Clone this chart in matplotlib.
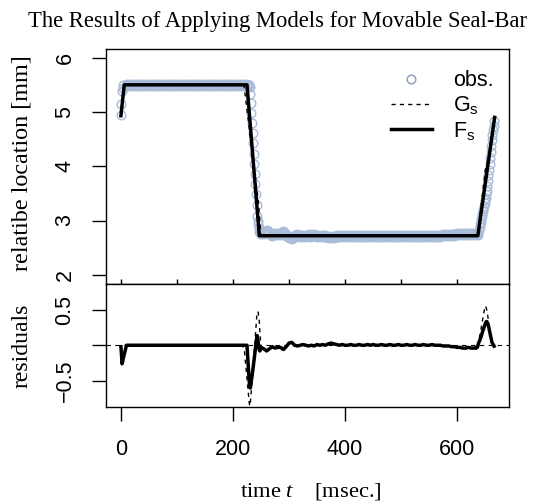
import numpy as np
import matplotlib
matplotlib.use("Agg")
import matplotlib.pyplot as plt
from matplotlib.lines import Line2D

plt.rcParams["font.family"] = ["Liberation Sans", "DejaVu Sans"]
plt.rcParams["mathtext.fontset"] = "custom"
plt.rcParams["mathtext.rm"] = "Liberation Serif"
plt.rcParams["mathtext.it"] = "Liberation Serif:italic"
plt.rcParams["mathtext.sf"] = "Liberation Sans"

# --- observaciones ---
t_start = np.arange(0, 5, 1)
obs_start = [4.95, 5.15, 5.38, 5.45, 5.50]

t_high = np.arange(10, 226, 5)
obs_high = [5.50, 5.50, 5.50, 5.50, 5.50, 5.50, 5.50, 5.50, 5.50, 5.50, 5.50,
            5.50, 5.50, 5.50, 5.50, 5.50, 5.50, 5.50, 5.50, 5.50, 5.50, 5.50,
            5.50, 5.50, 5.50, 5.50, 5.50, 5.50, 5.50, 5.50, 5.50, 5.50, 5.50,
            5.50, 5.50, 5.50, 5.50, 5.50, 5.50, 5.50, 5.50, 5.50, 5.50, 5.50]

t_down = np.arange(226, 251, 1)
obs_down = [5.50, 5.50, 5.50, 5.50, 5.46, 5.34, 5.16, 4.98, 4.80, 4.61,
            4.42, 4.23, 4.05, 3.86, 3.67, 3.48, 3.29, 3.09, 3.00, 2.93,
            2.86, 2.79, 2.80, 2.78, 2.75]

t_low = np.arange(255, 631, 5)
obs_low = [2.77, 2.80, 2.77, 2.74, 2.76, 2.75, 2.75, 2.78, 2.74, 2.69,
           2.68, 2.72, 2.73, 2.72, 2.71, 2.72, 2.73, 2.72, 2.73, 2.71,
           2.72, 2.71, 2.72, 2.70, 2.69, 2.70, 2.71, 2.72, 2.71, 2.72,
           2.72, 2.71, 2.72, 2.72, 2.71, 2.72, 2.72, 2.71, 2.72, 2.71,
           2.72, 2.72, 2.71, 2.72, 2.72, 2.71, 2.72, 2.72, 2.71, 2.72,
           2.72, 2.71, 2.72, 2.72, 2.71, 2.72, 2.72, 2.71, 2.72, 2.72,
           2.71, 2.72, 2.72, 2.72, 2.73, 2.73, 2.73, 2.74, 2.74, 2.75,
           2.75, 2.76, 2.76, 2.75, 2.76, 2.76]

t_up = np.arange(631, 667, 1)
obs_up = [2.76, 2.76, 2.76, 2.76, 2.75, 2.75, 2.73, 2.77, 2.82, 2.88,
          2.93, 2.98, 3.03, 3.08, 3.12, 3.17, 3.22, 3.27, 3.32, 3.37,
          3.42, 3.48, 3.55, 3.64, 3.73, 3.83, 3.94, 4.05, 4.16, 4.27,
          4.38, 4.49, 4.58, 4.67, 4.75, 4.84]

# --- modelos ajustados (vertices) ---
F_t = [0, 6, 225, 247, 637, 667]
F_y = [4.93, 5.50, 5.50, 2.72, 2.72, 4.90]
G_t = [0, 6, 219.5, 230, 245, 250, 637, 650, 658, 667]
G_y = [4.93, 5.50, 5.50, 4.61, 3.39, 2.72, 2.72, 3.92, 4.25, 4.90]

t_obs = np.concatenate([t_start, t_high, t_down, t_low, t_up])
obs = np.concatenate([obs_start, obs_high, obs_down, obs_low, obs_up])

# residuales = modelo - observado
res_F = np.interp(t_obs, F_t, F_y) - obs
res_G = np.interp(t_obs, G_t, G_y) - obs

W, H = 555, 504
fig = plt.figure(figsize=(W / 100, H / 100), dpi=100)
L, R = 106, 509
ax1 = fig.add_axes([L / W, 1 - 283.5 / H, (R - L) / W, (283.5 - 49) / H])
ax2 = fig.add_axes([L / W, 1 - 407 / H, (R - L) / W, (407 - 283.5) / H])

col_obs = "#a9bcd9"
fs_tick = 15.5

# Panel superior (tramos muestreados cada 5 ms con borde mas grueso)
for tt, yy in [(t_start, obs_start), (t_down, obs_down), (t_up, obs_up)]:
    ax1.plot(tt, yy, "o", ms=6.2, mfc="none", mec=col_obs, mew=1.0, zorder=1)
for tt, yy in [(t_high, obs_high), (t_low, obs_low)]:
    ax1.plot(tt, yy, "o", ms=6.6, mfc="none", mec=col_obs, mew=1.9, zorder=1)
ax1.plot(G_t, G_y, color="black", lw=1.0, ls=(0, (3, 3)), zorder=2)
ax1.plot(F_t, F_y, color="black", lw=2.5, zorder=3)
ax1.set_xlim(-26.6, 692.6)
ax1.set_ylim(1.84, 6.16)
ax1.set_yticks([2, 3, 4, 5, 6])
ax1.set_xticks(np.arange(0, 601, 100))
ax1.tick_params(axis="x", direction="in", length=3.6, width=1.0, labelbottom=False)
ax1.tick_params(axis="y", direction="out", length=10, width=1.0, pad=12,
                labelsize=fs_tick, labelrotation=90)
for lab in ax1.get_yticklabels():
    lab.set_va("center")

handles = [
    Line2D([], [], ls="none", marker="o", ms=6.2, mfc="none", mec="#8c9bb5", mew=1.0),
    Line2D([], [], color="black", lw=1.0, ls=(0, (3, 3))),
    Line2D([], [], color="black", lw=2.5),
]
ax1.legend(handles, ["obs.", r"G$_\mathsf{s}$", r"F$_\mathsf{s}$"],
           loc="upper right", bbox_to_anchor=(1.0, 0.974), frameon=False,
           fontsize=fs_tick, handlelength=1.9, handletextpad=1.0,
           labelspacing=0.15, borderaxespad=0.3)

# Panel inferior: residuales
ax2.axhline(0, color="black", lw=0.8, ls=(0, (4, 4)), zorder=1)
ax2.plot(t_obs, res_G, color="black", lw=1.0, ls=(0, (3, 3)), zorder=2)
ax2.plot(t_obs, res_F, color="black", lw=2.5, zorder=3)
ax2.set_xlim(-26.6, 692.6)
ax2.set_ylim(-0.864, 0.864)
ax2.set_xticks([0, 200, 400, 600])
ax2.set_yticks([-0.5, 0, 0.5])
ax2.set_yticklabels(["\u22120.5", "", "0.5"])
ax2.tick_params(axis="x", direction="out", length=10, width=1.0, pad=13,
                labelsize=fs_tick)
ax2.tick_params(axis="y", direction="out", length=10, width=1.0, pad=12,
                labelsize=fs_tick, labelrotation=90)
for lab in ax2.get_yticklabels():
    lab.set_va("center")

for ax in (ax1, ax2):
    for sp in ax.spines.values():
        sp.set_linewidth(1.0)

serif = "Liberation Serif"
fig.text(0.5, 1 - 26.7 / H, "The Results of Applying Models for Movable Seal-Bar",
         family=serif, size=16.3, ha="center", va="baseline")
fig.text(28 / W, 1 - 163 / H, "relatibe location [mm]", family=serif, size=17.4,
         rotation=90, rotation_mode="anchor", ha="center", va="baseline")
fig.text(28 / W, 1 - 345.5 / H, "residuals", family=serif, size=17.0,
         rotation=90, rotation_mode="anchor", ha="center", va="baseline")
fig.text(311 / W, 1 - 496 / H, r"time $\mathit{t}$    [msec.]", family=serif,
         size=16.2, ha="center", va="baseline")

fig.savefig("out.png", dpi=100)
